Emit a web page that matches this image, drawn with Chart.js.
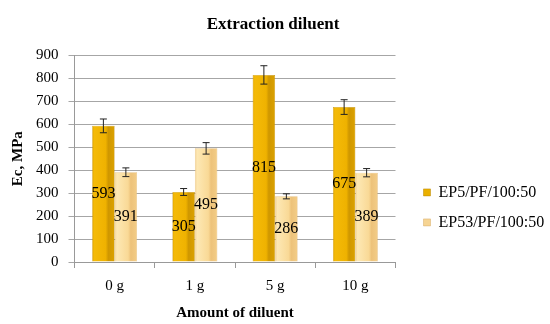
<!DOCTYPE html>
<html>
<head>
<meta charset="utf-8">
<script src="https://cdn.jsdelivr.net/npm/chart.js@4"></script>
<style>
  body { margin: 0; background: #fff; }
  #wrap { width: 550px; height: 324px; }
</style>
</head>
<body>
<div id="wrap"><canvas id="diluentChart" width="550" height="324"></canvas></div>
<script>
// values
const categories = ["0 g", "1 g", "5 g", "10 g"];
const ep5Values = [593, 305, 815, 675];
const ep53Values = [391, 495, 286, 389];
const ep5Errors = [30, 15, 40, 32];
const ep53Errors = [19, 25, 11, 18];
const seriesNames = ["EP5/PF/100:50", "EP53/PF/100:50"];

const FONT = "'Liberation Serif', 'Times New Roman', serif";
const CAT_PCT = 0.56;
const LEGEND_GAP = 14;

// gradient across one bar, so it looks a bit like the 3d column
function barGradient(context, stops) {
  const chart = context.chart;
  const xs = chart.scales.x;
  if (!xs || context.dataIndex === undefined) return stops[0][1];
  const center = xs.getPixelForValue(context.dataIndex);
  const catW = xs.width / categories.length;
  const barW = catW * CAT_PCT / 2;
  const left = context.datasetIndex === 0 ? center - barW : center;
  const g = chart.ctx.createLinearGradient(left, 0, left + barW, 0);
  stops.forEach(s => g.addColorStop(s[0], s[1]));
  return g;
}

const goldStops = [[0, "#e3a800"], [0.1, "#f4ba08"], [0.6, "#efb200"], [0.72, "#cf9700"], [1, "#dca200"]];
const lightStops = [[0, "#f3d08e"], [0.1, "#fde8b4"], [0.6, "#f9d996"], [0.72, "#edc27a"], [1, "#f3cd88"]];

// leaves some room between the plot and the legend
const legendGap = {
  id: "legendGap",
  beforeLayout(chart) {
    const lg = chart.legend;
    if (lg && !lg._gapPatched) {
      const fit = lg.fit;
      lg.fit = function () { fit.call(this); this.width += LEGEND_GAP; };
      lg._gapPatched = true;
    }
  },
  afterLayout(chart) {
    if (chart.legend) chart.legend.left += LEGEND_GAP;
  }
};

// error bars drawn from the value arrays through the y scale
const errorBars = {
  id: "errorBars",
  afterDatasetsDraw(chart) {
    const ctx = chart.ctx;
    const ys = chart.scales.y;
    const errs = [ep5Errors, ep53Errors];
    ctx.save();
    ctx.strokeStyle = "#222";
    ctx.lineWidth = 1;
    chart.data.datasets.forEach((ds, di) => {
      chart.getDatasetMeta(di).data.forEach((bar, i) => {
        const v = ds.data[i];
        const top = ys.getPixelForValue(v + errs[di][i]);
        const bot = ys.getPixelForValue(v - errs[di][i]);
        ctx.beginPath();
        ctx.moveTo(bar.x, top); ctx.lineTo(bar.x, bot);
        ctx.moveTo(bar.x - 3.5, top); ctx.lineTo(bar.x + 3.5, top);
        ctx.moveTo(bar.x - 3.5, bot); ctx.lineTo(bar.x + 3.5, bot);
        ctx.stroke();
      });
    });
    ctx.restore();
  }
};

// value labels in the middle of each bar
const valueLabels = {
  id: "valueLabels",
  afterDraw(chart) {
    const ctx = chart.ctx;
    ctx.save();
    ctx.font = "16px " + FONT;
    ctx.fillStyle = "#000";
    ctx.textAlign = "center";
    ctx.textBaseline = "middle";
    chart.data.datasets.forEach((ds, di) => {
      chart.getDatasetMeta(di).data.forEach((bar, i) => {
        ctx.fillText(ds.data[i], bar.x, (bar.y + bar.base) / 2);
      });
    });
    ctx.restore();
  }
};

const ctx = document.getElementById("diluentChart").getContext("2d");
new Chart(ctx, {
  type: "bar",
  data: {
    labels: categories,
    datasets: [
      {
        label: seriesNames[0],
        data: ep5Values,
        backgroundColor: c => barGradient(c, goldStops),
        borderColor: "#b88600",
        borderWidth: 0.5,
        categoryPercentage: CAT_PCT,
        barPercentage: 1
      },
      {
        label: seriesNames[1],
        data: ep53Values,
        backgroundColor: c => barGradient(c, lightStops),
        borderColor: "#d9ad66",
        borderWidth: 0.5,
        categoryPercentage: CAT_PCT,
        barPercentage: 1
      }
    ]
  },
  options: {
    responsive: false,
    animation: false,
    layout: { padding: { left: 0, right: 4, top: 6, bottom: 3 } },
    plugins: {
      title: {
        display: true,
        text: "Extraction diluent",
        color: "#000",
        font: { family: FONT, size: 17, weight: "bold" },
        padding: { top: 8, bottom: 21 }
      },
      legend: {
        position: "right",
        align: "start",
        title: { display: true, text: "", padding: { top: 150, bottom: 0 } },
        labels: {
          color: "#000",
          font: { family: FONT, size: 16 },
          boxWidth: 7,
          boxHeight: 7,
          padding: 14,
          generateLabels(chart) {
            return chart.data.datasets.map((ds, i) => ({
              text: ds.label,
              fillStyle: i === 0 ? "#eab000" : "#f6d493",
              strokeStyle: i === 0 ? "#b88600" : "#d9ad66",
              fontColor: "#000",
              lineWidth: 0.5,
              datasetIndex: i
            }));
          }
        }
      },
      tooltip: { enabled: false }
    },
    scales: {
      x: {
        grid: { offset: true, drawOnChartArea: false, color: "#999", tickLength: 6 },
        border: { color: "#999" },
        ticks: { color: "#000", font: { family: FONT, size: 15 }, padding: 9 },
        title: {
          display: true,
          text: "Amount of diluent",
          color: "#000",
          font: { family: FONT, size: 15, weight: "bold", lineHeight: 1 },
          padding: { top: 2, bottom: 0 }
        }
      },
      y: {
        min: 0,
        max: 900,
        ticks: { stepSize: 100, color: "#000", font: { family: FONT, size: 15 }, padding: 10 },
        grid: { color: "#a6a6a6", tickLength: 6 },
        border: { color: "#999" },
        title: {
          display: true,
          text: "Ec, MPa",
          color: "#000",
          font: { family: FONT, size: 15, weight: "bold", lineHeight: 1 },
          padding: { top: 11, bottom: 0 }
        }
      }
    }
  },
  plugins: [legendGap, errorBars, valueLabels]
});
</script>
</body>
</html>
